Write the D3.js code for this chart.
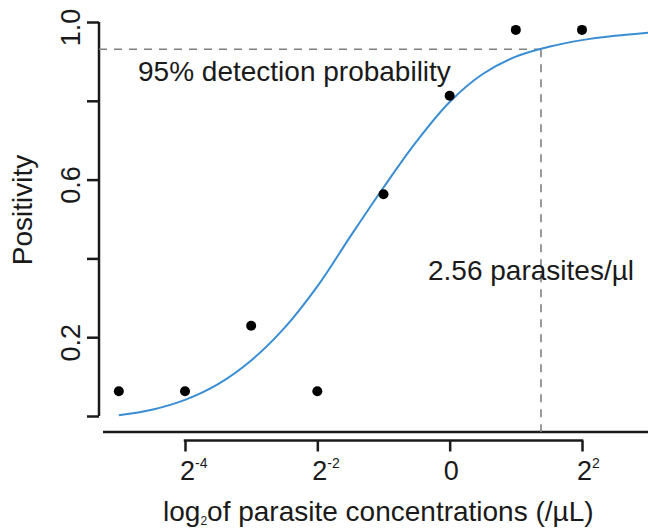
<!DOCTYPE html>
<html>
<head>
<meta charset="utf-8">
<script src="https://cdn.jsdelivr.net/npm/d3@7"></script>
<style>
  html, body { margin: 0; padding: 0; background: #ffffff; }
  svg { display: block; }
  text { font-family: "Liberation Sans", Arial, Helvetica, sans-serif; fill: #1a1a1a; }
</style>
</head>
<body>
<script>
// ---- data ----
const xTicks = [-4, -2, 0, 2];
const xTickBase = ["2", "2", "0", "2"];
const xTickSup = ["-4", "-2", "", "2"];
const yTicks = [0, 0.2, 0.4, 0.6, 0.8, 1.0];
const yTickLabels = ["", "0.2", "", "0.6", "", "1.0"];

const pointX = [-5, -4, -3, -2, -1, 0, 1, 2];
const pointY = [0.063, 0.063, 0.229, 0.063, 0.563, 0.813, 0.98, 0.98];

const curveX = [-5, -4.5, -4, -3.5, -3, -2.5, -2, -1.5, -1, -0.5, 0, 0.5, 1, 1.5, 2, 2.5, 3];
const curveY = [0.002, 0.016, 0.041, 0.081, 0.141, 0.223, 0.329, 0.456, 0.580, 0.697, 0.797, 0.868, 0.912, 0.937, 0.954, 0.965, 0.973];

const detectionProb = 0.931;   // horizontal reference line
const detectionX = 1.38;       // log2 of 2.56 parasites/µl, as drawn
const yAxisTitle = "Positivity";
const probLabel = "95% detection probability";
const concLabel = "2.56 parasites/µl";

// ---- layout ----
const W = 648, H = 529;
const x = d3.scaleLinear().domain([-4, 2]).range([185, 582]);
const y = d3.scaleLinear().domain([0, 1]).range([416, 22]);
const boxY = 432;      // bottom box line
const yAxisX = 99;
const xAxisY = 440.5;

const svg = d3.select("body").append("svg")
  .attr("width", W).attr("height", H)
  .attr("viewBox", `0 0 ${W} ${H}`);

svg.append("rect").attr("width", W).attr("height", H).attr("fill", "#fff");

const ink = "#1a1a1a";

// bottom box line
svg.append("line")
  .attr("x1", 103).attr("x2", W)
  .attr("y1", boxY).attr("y2", boxY)
  .attr("stroke", ink).attr("stroke-width", 2.5);

// ---- y axis ----
const yAxis = d3.axisLeft(y).tickValues(yTicks).tickSize(12)
  .tickFormat((d, i) => yTickLabels[i]);
const gy = svg.append("g").attr("transform", `translate(${yAxisX},0)`).call(yAxis);
gy.select(".domain").remove();
gy.selectAll(".tick line").attr("stroke", ink).attr("stroke-width", 2.5);
gy.selectAll(".tick text")
  .attr("transform", "rotate(-90)")
  .attr("x", -5).attr("y", -19).attr("dy", 0)
  .attr("text-anchor", "middle")
  .style("font-size", "27px")
  .style("font-family", '"Liberation Sans", Arial, sans-serif')
  .attr("fill", ink);
gy.append("line")
  .attr("x1", 0).attr("x2", 0)
  .attr("y1", y(0)).attr("y2", y(1))
  .attr("stroke", ink).attr("stroke-width", 2.5);

// ---- x axis ----
const xAxis = d3.axisBottom(x).tickValues(xTicks).tickSize(11).tickFormat(() => "");
const gx = svg.append("g").attr("transform", `translate(0,${xAxisY})`).call(xAxis);
gx.select(".domain").remove();
gx.selectAll(".tick line").attr("stroke", ink).attr("stroke-width", 2.5);
gx.append("line")
  .attr("x1", x(xTicks[0]) - 1.25).attr("x2", x(xTicks[xTicks.length - 1]) + 1.25)
  .attr("y1", 0).attr("y2", 0)
  .attr("stroke", ink).attr("stroke-width", 2.5);
gx.selectAll(".tick").each(function(d, i) {
  const t = d3.select(this).select("text");
  t.text(null)
    .attr("y", 39.5).attr("dy", 0)
    .style("font-size", "27px")
    .style("font-family", '"Liberation Sans", Arial, sans-serif')
    .attr("fill", ink);
  if (xTickSup[i]) {
    t.attr("text-anchor", "start").attr("x", -5.5);
    t.append("tspan").text(xTickBase[i]);
    t.append("tspan").text(xTickSup[i]).style("font-size", "14px").attr("dy", -12);
  } else {
    t.attr("text-anchor", "middle").attr("x", 1).text(xTickBase[i]);
  }
});

// ---- reference dashed lines ----
svg.append("line")
  .attr("x1", yAxisX).attr("x2", x(detectionX))
  .attr("y1", y(detectionProb)).attr("y2", y(detectionProb))
  .attr("stroke", "#808080").attr("stroke-width", 1.6)
  .attr("stroke-dasharray", "8,7");
svg.append("line")
  .attr("x1", x(detectionX)).attr("x2", x(detectionX))
  .attr("y1", y(detectionProb)).attr("y2", boxY)
  .attr("stroke", "#808080").attr("stroke-width", 1.6)
  .attr("stroke-dasharray", "8,7");

// ---- fitted curve ----
const line = d3.line()
  .x((d, i) => x(curveX[i]))
  .y((d, i) => y(curveY[i]))
  .curve(d3.curveCatmullRom.alpha(0.5));
svg.append("path")
  .datum(curveX)
  .attr("d", line)
  .attr("fill", "none")
  .attr("stroke", "#3a8dd3")
  .attr("stroke-width", 2);

// ---- points ----
svg.append("g").selectAll("circle")
  .data(pointX)
  .join("circle")
  .attr("cx", (d, i) => x(pointX[i]))
  .attr("cy", (d, i) => y(pointY[i]))
  .attr("r", 5)
  .attr("fill", "#000");

// ---- text annotations ----
svg.append("text")
  .attr("x", 138).attr("y", 80.5)
  .style("font-size", "28px")
  .text(probLabel);

svg.append("text")
  .attr("x", 428).attr("y", 280)
  .style("font-size", "28px")
  .text(concLabel);

// y title
svg.append("text")
  .attr("transform", `translate(32,210) rotate(-90)`)
  .attr("text-anchor", "middle")
  .style("font-size", "28px")
  .text(yAxisTitle);

// x title with subscript
const xt = svg.append("text")
  .attr("x", 163).attr("y", 521)
  .style("font-size", "28px");
xt.append("tspan").text("log");
xt.append("tspan").text("2").style("font-size", "12px").attr("dy", 4);
xt.append("tspan").text("of parasite concentrations (/µL)").attr("dy", -4);
</script>
</body>
</html>
